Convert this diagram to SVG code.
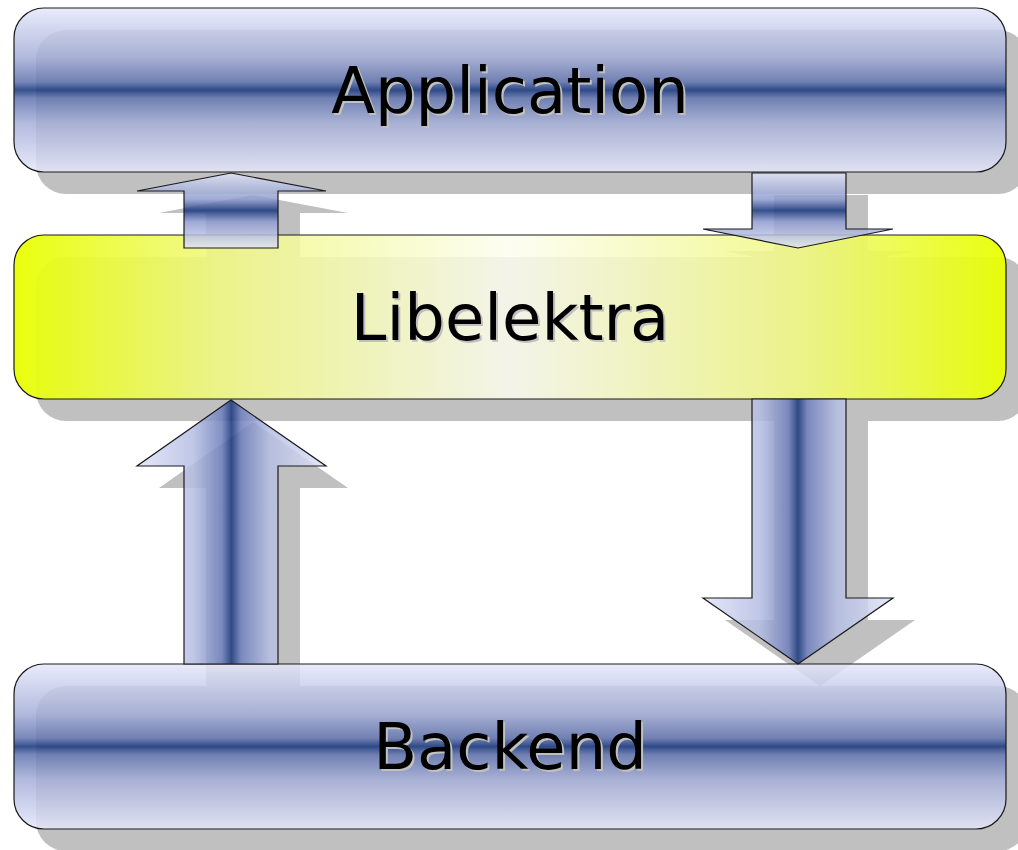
<svg xmlns="http://www.w3.org/2000/svg" width="1018" height="850" viewBox="0 0 1018 850">
<style>
.shadow{fill:#c0c0c0}
.box{stroke:#1a1a1a;stroke-width:1.2}
.blue{fill:url(#gBox)}
.yellow{fill:url(#gYel)}
.arr{stroke:#1a1a1a;stroke-width:1.2}
.lbl{font-family:"DejaVu Sans",sans-serif;font-size:64px;text-anchor:middle}
.lblsh{fill:#c0c0c0}
.lbltx{fill:#000}
</style>
<defs>
<linearGradient id="gBox" x1="0" y1="0" x2="0" y2="1">
<stop offset="0" stop-color="#e6e8fb" stop-opacity="0.85"/>
<stop offset="0.3" stop-color="#a4aed8" stop-opacity="0.85"/>
<stop offset="0.45" stop-color="#6577b0" stop-opacity="0.88"/>
<stop offset="0.5" stop-color="#1f3d80" stop-opacity="0.9"/>
<stop offset="0.55" stop-color="#6577b0" stop-opacity="0.88"/>
<stop offset="0.7" stop-color="#a4aed8" stop-opacity="0.85"/>
<stop offset="1" stop-color="#e6e8fb" stop-opacity="0.85"/>
</linearGradient>
<linearGradient id="gYel" x1="0" y1="0" x2="1" y2="0">
<stop offset="0" stop-color="#e8ff00" stop-opacity="0.95"/>
<stop offset="0.2" stop-color="#f0f880" stop-opacity="0.9"/>
<stop offset="0.5" stop-color="#fcfdf0" stop-opacity="0.85"/>
<stop offset="0.8" stop-color="#f0f880" stop-opacity="0.9"/>
<stop offset="1" stop-color="#e8ff00" stop-opacity="0.95"/>
</linearGradient>
<linearGradient id="gSmall" gradientUnits="userSpaceOnUse" x1="0" y1="173" x2="0" y2="248">
<stop offset="0" stop-color="#e0e4f8" stop-opacity="0.85"/>
<stop offset="0.35" stop-color="#8e9bce" stop-opacity="0.85"/>
<stop offset="0.5" stop-color="#1f3d80" stop-opacity="0.9"/>
<stop offset="0.65" stop-color="#8e9bce" stop-opacity="0.85"/>
<stop offset="1" stop-color="#e0e4f8" stop-opacity="0.85"/>
</linearGradient>
<linearGradient id="gBigL" gradientUnits="userSpaceOnUse" x1="137" y1="0" x2="326" y2="0">
<stop offset="0" stop-color="#e0e4f8" stop-opacity="0.85"/>
<stop offset="0.3" stop-color="#b4bde3" stop-opacity="0.85"/>
<stop offset="0.45" stop-color="#7080bb" stop-opacity="0.88"/>
<stop offset="0.5" stop-color="#1f3d80" stop-opacity="0.9"/>
<stop offset="0.55" stop-color="#7080bb" stop-opacity="0.88"/>
<stop offset="0.7" stop-color="#b4bde3" stop-opacity="0.85"/>
<stop offset="1" stop-color="#e0e4f8" stop-opacity="0.85"/>
</linearGradient>
<linearGradient id="gBigR" gradientUnits="userSpaceOnUse" x1="703" y1="0" x2="893" y2="0">
<stop offset="0" stop-color="#e0e4f8" stop-opacity="0.85"/>
<stop offset="0.3" stop-color="#b4bde3" stop-opacity="0.85"/>
<stop offset="0.45" stop-color="#7080bb" stop-opacity="0.88"/>
<stop offset="0.5" stop-color="#1f3d80" stop-opacity="0.9"/>
<stop offset="0.55" stop-color="#7080bb" stop-opacity="0.88"/>
<stop offset="0.7" stop-color="#b4bde3" stop-opacity="0.85"/>
<stop offset="1" stop-color="#e0e4f8" stop-opacity="0.85"/>
</linearGradient>
</defs>

<g id="shadows" transform="translate(22,22)">
<rect class="shadow" x="14" y="8" width="992" height="164" rx="30"/>
<rect class="shadow" x="14" y="235" width="992" height="164" rx="30"/>
<rect class="shadow" x="14" y="664" width="992" height="165" rx="30"/>
<polygon class="shadow" points="231,173 326,191 278,191 278,248 184,248 184,191 137,191"/>
<polygon class="shadow" points="752,173 846,173 846,229 893,229 798,248 703,229 752,229"/>
<polygon class="shadow" points="231,400 326,466 278,466 278,664 184,664 184,466 137,466"/>
<polygon class="shadow" points="752,399 846,399 846,598 893,598 798,664 703,598 752,598"/>
</g>

<g id="application">
<rect class="box blue" x="14" y="8" width="992" height="164" rx="30"/>
<text class="lbl lblsh" x="512" y="115">Application</text>
<text class="lbl lbltx" x="510" y="113">Application</text>
</g>

<g id="libelektra">
<rect class="box yellow" x="14" y="235" width="992" height="164" rx="30"/>
<text class="lbl lblsh" x="512" y="342">Libelektra</text>
<text class="lbl lbltx" x="510" y="340">Libelektra</text>
</g>

<g id="backend">
<rect class="box blue" x="14" y="664" width="992" height="165" rx="30"/>
<text class="lbl lblsh" x="512" y="771">Backend</text>
<text class="lbl lbltx" x="510" y="769">Backend</text>
</g>

<g id="connectors">
<polygon class="arr" fill="url(#gSmall)" points="231,173 326,191 278,191 278,248 184,248 184,191 137,191"/>
<polygon class="arr" fill="url(#gSmall)" points="752,173 846,173 846,229 893,229 798,248 703,229 752,229"/>
<polygon class="arr" fill="url(#gBigL)" points="231,400 326,466 278,466 278,664 184,664 184,466 137,466"/>
<polygon class="arr" fill="url(#gBigR)" points="752,399 846,399 846,598 893,598 798,664 703,598 752,598"/>
</g>
</svg>
